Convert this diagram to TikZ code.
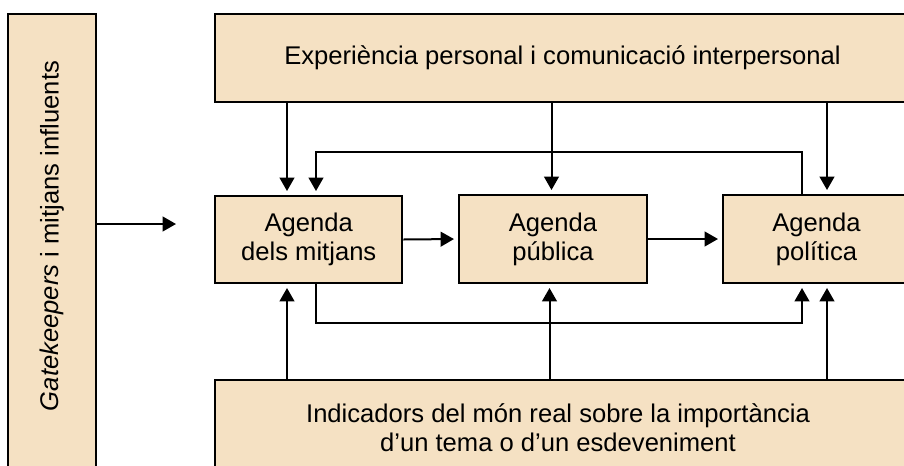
\documentclass[tikz,border=0pt]{standalone}
\usepackage{fontspec}
\setmainfont{Liberation Sans}
\usetikzlibrary{arrows.meta}
\definecolor{boxfill}{RGB}{245,225,195}
\tikzset{
  box/.style={draw=black, line width=1.5pt, fill=boxfill, inner sep=0pt, align=center},
  txt/.style={inner sep=0pt, align=center},
  arr/.style={line width=1.5pt, -{Triangle[length=10pt,width=11pt]}, shorten >=3pt},
  ln/.style={line width=1.5pt},
}
\begin{document}
\begin{tikzpicture}[x=0.75pt,y=-0.75pt,font=\fontsize{19.2pt}{21.75pt}\selectfont]
\useasboundingbox (0,0) rectangle (904,465);
\clip (0,0) rectangle (904,465);
% boxes
\node[box, minimum width=66pt, minimum height=349.5pt] (gk) at (52,247) {};
\node[txt, rotate=90] (gkt) at (52,236) {\textit{Gatekeepers} i mitjans influents};
\node[box, minimum width=521.25pt, minimum height=66pt] (top) at (562.5,58) {Experiència personal i comunicació interpersonal};
\node[box, minimum width=140.6pt, minimum height=65.25pt] (mit) at (308.75,239.5) {Agenda\\dels mitjans};
\node[box, minimum width=141pt, minimum height=66pt] (pub) at (553,239) {Agenda\\pública};
\node[box, minimum width=140.25pt, minimum height=66pt] (pol) at (816.5,239) {Agenda\\política};
\node[box, minimum width=528.75pt, minimum height=75pt] (bot) at (567.5,430) {};
\node[txt] (bott) at (558,428) {Indicadors del món real sobre la importància\\d’un tema o d’un esdeveniment};
% helper coordinates
\coordinate (gkend) at (180,224);
\coordinate (xa) at (287,0);
\coordinate (xb) at (316,0);
\coordinate (xc) at (551.5,0);
\coordinate (xc2) at (549.5,0);
\coordinate (xd) at (802,0);
\coordinate (xe) at (827,0);
\coordinate (ytop) at (0,152);
\coordinate (ybot) at (0,323);
% connectors
\draw[arr] (gkend -| gk.east) -- (gkend);
\draw[arr] (top.south -| xa) -- (mit.north -| xa);
\draw[arr] (top.south -| xc) -- (pub.north -| xc);
\draw[arr] (top.south -| xe) -- (pol.north -| xe);
\draw[arr] (mit.east) -- (pub.west);
\draw[arr] (pub.east) -- (pol.west);
\draw[arr] (pol.north -| xd) -- (ytop -| xd) -- (ytop -| xb) -- (mit.north -| xb);
\draw[arr] (mit.south -| xb) -- (ybot -| xb) -- (ybot -| xd) -- (pol.south -| xd);
\draw[arr] (bot.north -| xa) -- (mit.south -| xa);
\draw[arr] (bot.north -| xc2) -- (pub.south -| xc2);
\draw[arr] (bot.north -| xe) -- (pol.south -| xe);
\end{tikzpicture}
\end{document}
